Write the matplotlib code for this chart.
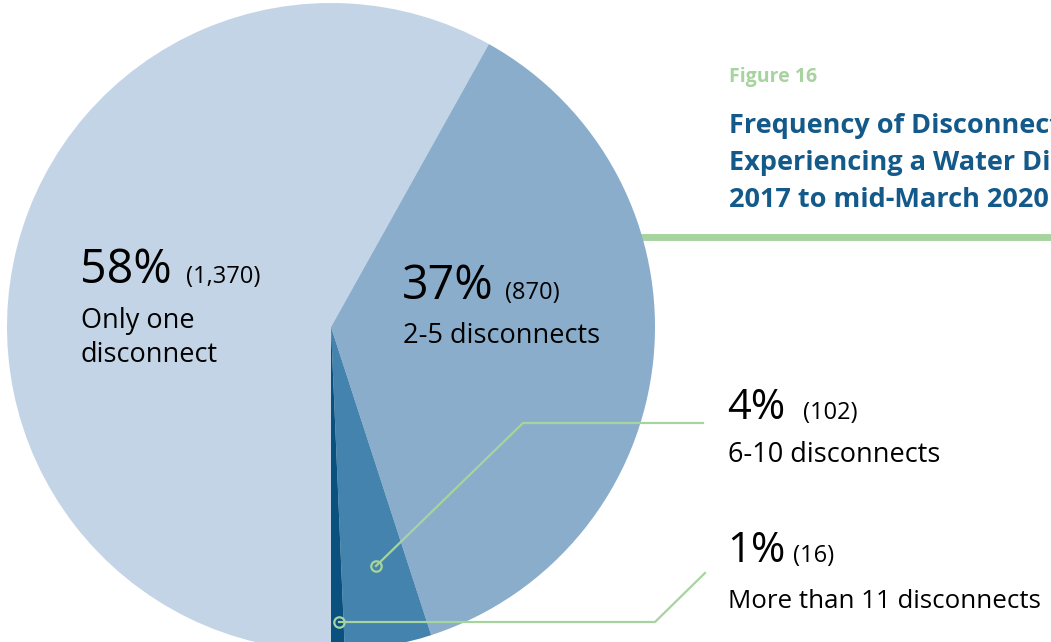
import matplotlib.pyplot as plt

# Data
labels = ["Only one\ndisconnect", "2-5 disconnects", "6-10 disconnects", "More than 11 disconnects"]
counts = [1370, 870, 102, 16]
pcts = ["58%", "37%", "4%", "1%"]
count_labels = ["(1,370)", "(870)", "(102)", "(16)"]
colors = ["#c3d4e6", "#8aadcb", "#4483ad", "#0b517f"]

green = "#a7d49e"
title_blue = "#13598a"
plt.rcParams['font.family'] = ['Open Sans', 'DejaVu Sans']

W, H = 1051, 642
fig = plt.figure(figsize=(W / 100, H / 100), dpi=100)
ax = fig.add_axes([0, 0, 1, 1])

def py(y):
    # pixel row (from top) -> data y
    return H - y

# green rule behind the pie
ax.plot([600, W], [py(237), py(237)], color=green, lw=5, solid_capstyle='butt', zorder=0)

ax.pie(counts, colors=colors, startangle=-90, counterclock=False,
       center=(331, py(327)), radius=324, wedgeprops=dict(linewidth=0), frame=True)
ax.set_xlim(0, W)
ax.set_ylim(0, H)
ax.set_aspect('equal')
ax.axis('off')

# leader lines
ax.plot([376, 523, 703], [py(566), py(423), py(423)], color=green, lw=1.6, zorder=5)
ax.plot([339, 655, 705], [py(622), py(622), py(573)], color=green, lw=1.6, zorder=5)
ax.plot([376, 339], [py(566), py(622)], 'o', ms=7.5, mfc='none', mec=green, mew=1.6, zorder=6)

# slice labels
big = 33.5
small = 17
sub = 19.5
ax.text(80, py(283), pcts[0], fontsize=big, color='black', va='baseline')
ax.text(186, py(283), count_labels[0], fontsize=small, color='black', va='baseline')
ax.text(81, py(328), "Only one", fontsize=sub, color='black', va='baseline')
ax.text(81, py(362), "disconnect", fontsize=sub, color='black', va='baseline')

ax.text(402, py(299), pcts[1], fontsize=big, color='black', va='baseline')
ax.text(505, py(299), count_labels[1], fontsize=small, color='black', va='baseline')
ax.text(403, py(343), labels[1], fontsize=sub, color='black', va='baseline')

ax.text(727, py(419), pcts[2], fontsize=30, color='black', va='baseline')
ax.text(803, py(419), count_labels[2], fontsize=small, color='black', va='baseline')
ax.text(728, py(462), labels[2], fontsize=sub, color='black', va='baseline')

ax.text(727, py(562), pcts[3], fontsize=30, color='black', va='baseline')
ax.text(793, py(562), count_labels[3], fontsize=small, color='black', va='baseline')
ax.text(728, py(608), labels[3], fontsize=18.6, color='black', va='baseline')

# title block
ax.text(729, py(82), "Figure 16", fontsize=14, color=green, fontweight='bold', va='baseline')
title_lines = ["Frequency of Disconnects per Household",
               "Experiencing a Water Disconnect,",
               "2017 to mid-March 2020"]
for i, line in enumerate(title_lines):
    ax.text(729, py(133 + 37 * i), line, fontsize=19.5, color=title_blue,
            fontweight='bold', va='baseline', clip_on=True)

fig.savefig("out.png", dpi=100)
